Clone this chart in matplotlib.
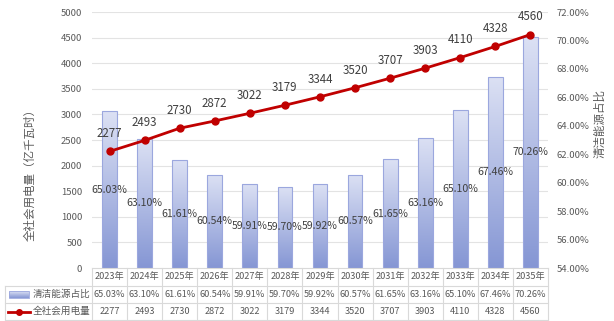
import matplotlib
matplotlib.use('Agg')
import matplotlib.pyplot as plt
from matplotlib.patches import Rectangle
from matplotlib.lines import Line2D
import numpy as np

plt.rcParams['font.family'] = ['Noto Sans CJK SC', 'DejaVu Sans']

# 数据
years = ['2023年', '2024年', '2025年', '2026年', '2027年', '2028年', '2029年',
         '2030年', '2031年', '2032年', '2033年', '2034年', '2035年']
clean_share = [65.03, 63.10, 61.61, 60.54, 59.91, 59.70, 59.92,
               60.57, 61.65, 63.16, 65.10, 67.46, 70.26]
power_use = [2277, 2493, 2730, 2872, 3022, 3179, 3344,
             3520, 3707, 3903, 4110, 4328, 4560]
bar_label = '清洁能源占比'
line_label = '全社会用电量'

W, H = 614, 321
fig = plt.figure(figsize=(W / 100, H / 100), dpi=100)

# 绘图区（像素）
x0, x1, ytop, ybot = 92, 548, 12, 268
ax = fig.add_axes([x0 / W, 1 - ybot / H, (x1 - x0) / W, (ybot - ytop) / H])
ax2 = ax.twinx()
ax.set_zorder(ax2.get_zorder() + 1)
ax.patch.set_visible(False)

n = len(years)
x = np.arange(n)
txt_c = '#595959'
grid_c = '#e3e3e3'

# 左轴
ax.set_xlim(-0.5, n - 0.5)
ax.set_ylim(0, 5000)
ax.set_yticks(np.arange(0, 5001, 500))
ax.tick_params(axis='y', labelsize=6.8, colors=txt_c, length=0, pad=7)
ax.set_xticks([])
for s in ax.spines.values():
    s.set_visible(False)

# 右轴
ax2.set_ylim(54, 72)
ax2.set_yticks(np.arange(54, 72.1, 2))
ax2.set_yticklabels([f'{v:.2f}%' for v in np.arange(54, 72.1, 2)])
ax2.tick_params(axis='y', labelsize=6.8, colors=txt_c, length=0, pad=6)
for s in ax2.spines.values():
    s.set_visible(False)

# 网格线（按左轴刻度）
for g in np.arange(500, 5001, 500):
    ax2.plot([0, 1], [g / 5000, g / 5000], transform=ax2.transAxes,
             color=grid_c, lw=0.8, zorder=0)

# 渐变柱
grad = np.linspace(0, 1, 256).reshape(-1, 1)
cmap = matplotlib.colors.LinearSegmentedColormap.from_list(
    'bg', ['#8596d4', '#dce1f4'])
bw = 0.42
bars = ax2.bar(x, [v - 54 for v in clean_share], bw, bottom=54,
               facecolor='none', edgecolor='#9ba7de', linewidth=0.8, zorder=2)
for b, v in zip(bars, clean_share):
    im = ax2.imshow(grad, cmap=cmap, aspect='auto', origin='lower',
                    extent=[b.get_x(), b.get_x() + b.get_width(), 54, v],
                    zorder=1)
    im.set_clip_path(b)
    ax2.text(b.get_x() + b.get_width() / 2, (54 + v) / 2, f'{v:.2f}%',
             ha='center', va='center', fontsize=7.6, color='#404040', zorder=3)
ax2.set_xlim(-0.5, n - 0.5)
ax2.set_ylim(54, 72)

# 折线
ax.plot(x, power_use, color='#c00000', lw=2, marker='o', markersize=5, zorder=5)
for xi, v in zip(x, power_use):
    ax.annotate(f'{v}', (xi, v), xytext=(0, 8), textcoords='offset points',
                ha='center', va='bottom', fontsize=8.3, color='#404040')

# 轴标题
fig.text(30 / W, 1 - 172 / H, '全社会用电量（亿千瓦时）', rotation=90,
         ha='center', va='center', fontsize=8.3, color=txt_c)
fig.text(600 / W, 1 - 124 / H, '清洁能源占比', rotation=90,
         ha='center', va='center', fontsize=8.3, color=txt_c)

# 数据表
tab_c = '#d9d9d9'
lx = 5
cw = (x1 - x0) / n
rows_y = [268, 286, 303, 320]
def hl(y, xa, xb):
    fig.add_artist(Line2D([xa / W, xb / W], [1 - y / H, 1 - y / H],
                          color=tab_c, lw=0.8))
def vl(xp, ya, yb):
    fig.add_artist(Line2D([xp / W, xp / W], [1 - ya / H, 1 - yb / H],
                          color=tab_c, lw=0.8))

hl(rows_y[0], x0, x1)
for yy in rows_y[1:]:
    hl(yy, lx, x1)
vl(lx, rows_y[1], rows_y[3])
for i in range(n + 1):
    vl(x0 + i * cw, rows_y[0], rows_y[3])

def cy(r):
    return 1 - (rows_y[r] + rows_y[r + 1]) / 2 / H

tfs = 6.6
for i in range(n):
    cx = (x0 + (i + 0.5) * cw) / W
    fig.text(cx, cy(0), years[i], ha='center', va='center', fontsize=tfs, color=txt_c)
    fig.text(cx, cy(1), f'{clean_share[i]:.2f}%', ha='center', va='center',
             fontsize=tfs, color=txt_c)
    fig.text(cx, cy(2), f'{power_use[i]}', ha='center', va='center',
             fontsize=tfs, color=txt_c)

# 表格图例
lax = fig.add_axes([0, 0, 1, 1], zorder=-1)
lax.axis('off')
lax.imshow(np.linspace(1, 0, 64).reshape(-1, 1), cmap=cmap, aspect='auto',
           extent=[9, 29, 298, 291], zorder=1)
lax.add_patch(Rectangle((9, 291), 20, 7, facecolor='none', edgecolor='#9ba7de', lw=0.6))
lax.plot([8, 30], [311.5, 311.5], color='#c00000', lw=2)
lax.plot([19], [311.5], 'o', color='#c00000', markersize=4)
lax.set_xlim(0, W)
lax.set_ylim(H, 0)
fig.text(33 / W, cy(1), bar_label, ha='left', va='center', fontsize=6.9, color=txt_c)
fig.text(33 / W, cy(2), line_label, ha='left', va='center', fontsize=6.9, color=txt_c)

fig.savefig('out.png', dpi=100)
